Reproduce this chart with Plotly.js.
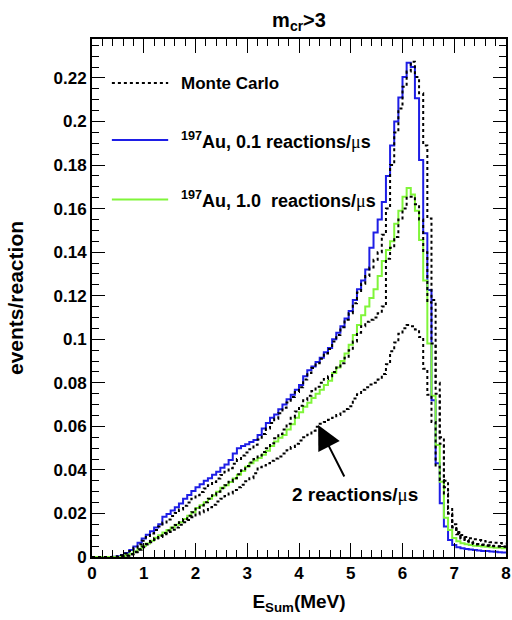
<!DOCTYPE html>
<html>
<head>
<meta charset="utf-8">
<script src="https://cdn.plot.ly/plotly-3.0.1.min.js"></script>
<style>html,body{margin:0;padding:0;background:#fff;}#chart{width:512px;height:620px;}</style>
</head>
<body>
<div id="chart"></div>
<script>
// Histogram binning (MeV)
const binLow = 0.0;
const binWidth = 0.08;

// 197Au, 0.1 reactions/us (blue)
const au01 = [0,0,0,0,0,0.0001,0.0004,0.0009,0.0018,0.0032,
0.0048,0.0065,0.0085,0.0102,0.0118,0.0136,0.0150,0.0185,0.0197,0.0214,
0.0228,0.0246,0.0268,0.0285,0.0303,0.0320,0.0334,0.0350,0.0362,0.0378,
0.0392,0.0410,0.0425,0.0445,0.0475,0.0500,0.0510,0.0518,0.0528,0.0537,
0.0560,0.0590,0.0615,0.0640,0.0655,0.0678,0.0700,0.0725,0.0745,0.0768,
0.0790,0.0830,0.0858,0.0875,0.0895,0.0915,0.0940,0.0960,0.1000,0.1030,
0.1060,0.1095,0.1130,0.1180,0.1230,0.1270,0.1320,0.1420,0.1490,0.1550,
0.1630,0.1750,0.1890,0.2000,0.2110,0.2205,0.2270,0.2250,0.2107,0.1823,
0.1487,0.1226,0.0720,0.0430,0.0247,0.0140,0.0078,0.0055,0.0045,0.0040,
0.0037,0.0034,0.0032,0.0030,0.0028,0.0027,0.0025,0.0024,0.0022,0.0021];

// 197Au, 1.0 reactions/us (green)
const au10 = [0,0,0,0,0,0,0,0.0003,0.0008,0.0015,
0.0025,0.0038,0.0050,0.0062,0.0075,0.0088,0.0100,0.0112,0.0124,0.0135,
0.0148,0.0160,0.0175,0.0190,0.0205,0.0225,0.0238,0.0252,0.0268,0.0283,
0.0300,0.0318,0.0330,0.0345,0.0360,0.0378,0.0395,0.0415,0.0430,0.0443,
0.0455,0.0470,0.0488,0.0510,0.0530,0.0548,0.0560,0.0585,0.0610,0.0640,
0.0665,0.0690,0.0708,0.0730,0.0750,0.0768,0.0790,0.0810,0.0845,0.0870,
0.0900,0.0935,0.0975,0.1020,0.1065,0.1110,0.1150,0.1190,0.1230,0.1290,
0.1360,0.1410,0.1450,0.1530,0.1590,0.1655,0.1695,0.1665,0.1590,0.1456,
0.1270,0.0980,0.0740,0.0514,0.0346,0.0180,0.0124,0.0087,0.0072,0.0063,
0.0058,0.0055,0.0052,0.0050,0.0048,0.0047,0.0045,0.0043,0.0042,0.0040];

// Monte Carlo, 0.1 reactions/us
const mc01 = [0,0,0,0,0,0.0001,0.0003,0.0008,0.0016,0.0028,
0.0042,0.0058,0.0075,0.0092,0.0108,0.0124,0.0140,0.0158,0.0172,0.0188,
0.0202,0.0218,0.0235,0.0250,0.0268,0.0284,0.0298,0.0315,0.0330,0.0345,
0.0360,0.0377,0.0392,0.0408,0.0428,0.0450,0.0466,0.0480,0.0495,0.0515,
0.0540,0.0565,0.0590,0.0615,0.0635,0.0660,0.0685,0.0710,0.0735,0.0758,
0.0780,0.0815,0.0845,0.0868,0.0890,0.0910,0.0935,0.0955,0.0990,0.1020,
0.1055,0.1090,0.1120,0.1165,0.1215,0.1255,0.1290,0.1330,0.1365,0.1400,
0.1480,0.1600,0.1800,0.1950,0.2060,0.2160,0.2230,0.2275,0.2205,0.2130,
0.1890,0.1555,0.1180,0.0800,0.0520,0.0320,0.0200,0.0135,0.0105,0.0088,
0.0078,0.0070,0.0064,0.0060,0.0057,0.0054,0.0052,0.0050,0.0049,0.0048];

// Monte Carlo, 1.0 reactions/us
const mc10 = [0,0,0,0,0,0,0,0.0003,0.0007,0.0014,
0.0024,0.0036,0.0048,0.0060,0.0073,0.0086,0.0098,0.0110,0.0122,0.0134,
0.0147,0.0160,0.0174,0.0190,0.0206,0.0222,0.0237,0.0252,0.0268,0.0284,
0.0300,0.0316,0.0330,0.0346,0.0362,0.0380,0.0398,0.0418,0.0434,0.0450,
0.0466,0.0482,0.0500,0.0522,0.0545,0.0565,0.0585,0.0612,0.0640,0.0668,
0.0695,0.0720,0.0740,0.0762,0.0782,0.0800,0.0818,0.0830,0.0850,0.0870,
0.0890,0.0915,0.0950,0.0990,0.1030,0.1060,0.1080,0.1090,0.1100,0.1120,
0.1150,0.1370,0.1420,0.1470,0.1550,0.1600,0.1655,0.1655,0.1620,0.1550,
0.1400,0.1170,0.0980,0.0750,0.0550,0.0350,0.0220,0.0150,0.0110,0.0085,
0.0072,0.0065,0.0060,0.0057,0.0055,0.0052,0.0050,0.0049,0.0048,0.0047];

// Monte Carlo, 2 reactions/us
const mc20 = [0,0,0,0,0,0,0,0.0002,0.0006,0.0012,
0.0022,0.0033,0.0045,0.0057,0.0068,0.0080,0.0092,0.0105,0.0115,0.0125,
0.0135,0.0148,0.0160,0.0170,0.0182,0.0195,0.0205,0.0215,0.0228,0.0240,
0.0255,0.0268,0.0280,0.0292,0.0308,0.0320,0.0332,0.0348,0.0362,0.0385,
0.0412,0.0420,0.0430,0.0442,0.0452,0.0462,0.0475,0.0490,0.0505,0.0520,
0.0535,0.0550,0.0562,0.0580,0.0598,0.0612,0.0620,0.0630,0.0640,0.0652,
0.0668,0.0680,0.0692,0.0728,0.0748,0.0768,0.0780,0.0792,0.0800,0.0815,
0.0840,0.0885,0.0945,0.0985,0.1025,0.1050,0.1065,0.1060,0.1045,0.1010,
0.0865,0.0745,0.0620,0.0415,0.0354,0.0292,0.0200,0.0139,0.0115,0.0101,
0.0092,0.0086,0.0081,0.0078,0.0074,0.0071,0.0068,0.0066,0.0064,0.0062];

// Axis ticks
const xTicks = [0,1,2,3,4,5,6,7,8];
const yTicks = [0,0.02,0.04,0.06,0.08,0.1,0.12,0.14,0.16,0.18,0.2,0.22];

// Labels
const titleText = 'm<sub>cr</sub>>3';
const xTitle = 'E<sub>Sum</sub>(MeV)';
const yTitle = 'events/reaction';
const mu = '<span style="font-family:Liberation Serif;font-weight:normal">μ</span>';
const legendLabels = ['Monte Carlo',
  '<sup>197</sup>Au, 0.1 reactions/' + mu + 's',
  '<sup>197</sup>Au, 1.0  reactions/' + mu + 's'];
const arrowLabel = '2 reactions/' + mu + 's';

function stepTrace(vals, color, dash, width) {
  const xs = [], ys = [];
  for (let k = 0; k < vals.length; k++) { xs.push(binLow + k * binWidth); ys.push(vals[k]); }
  xs.push(binLow + vals.length * binWidth); ys.push(vals[vals.length - 1]);
  return {x: xs, y: ys, type: 'scatter', mode: 'lines',
    line: {shape: 'hv', color: color, width: width, dash: dash},
    showlegend: false, hoverinfo: 'skip'};
}

const BLUE = '#1e1ee6', GREEN = '#80f53a';
const data = [
  stepTrace(au01, BLUE, 'solid', 2),
  stepTrace(au10, GREEN, 'solid', 2),
  stepTrace(mc01, '#000', 'dot', 2),
  stepTrace(mc10, '#000', 'dot', 2),
  stepTrace(mc20, '#000', 'dot', 2)
];

const FONT = 'Liberation Sans, Arial, Helvetica, sans-serif';
const axisCommon = {
  showline: true, linewidth: 2, linecolor: '#000', mirror: 'allticks',
  ticks: 'inside', tickwidth: 1, tickcolor: '#000',
  showgrid: false, zeroline: false,
  tickfont: {family: FONT, size: 17, weight: 700, color: '#000'}
};

const legendY = [0.915, 0.805, 0.690];
const legendStyle = [
  {color: '#000', dash: 'dot'}, {color: BLUE, dash: 'solid'}, {color: GREEN, dash: 'solid'}
];
const shapes = legendY.map((y, i) => ({type: 'line', xref: 'paper', yref: 'paper',
  x0: 0.048, x1: 0.184, y0: y, y1: y, line: {color: legendStyle[i].color, width: 2, dash: legendStyle[i].dash}}));
const annotations = legendY.map((y, i) => ({xref: 'paper', yref: 'paper', x: 0.211, y: y,
  xanchor: 'left', yanchor: 'middle', showarrow: false, text: legendLabels[i],
  font: {family: FONT, size: i === 0 ? 17 : 18, weight: 700, color: '#000'}}));
annotations.push({xref: 'x', yref: 'y', axref: 'x', ayref: 'y',
  x: 4.37, y: 0.0606, ax: 4.89, ay: 0.0363, text: '', showarrow: true,
  arrowhead: 2, arrowsize: 2.4, arrowwidth: 2, arrowcolor: '#000'});
annotations.push({xref: 'x', yref: 'y', x: 5.08, y: 0.0285, text: arrowLabel,
  showarrow: false, xanchor: 'center', yanchor: 'middle',
  font: {family: FONT, size: 19, weight: 700, color: '#000'}});

const layout = {
  width: 512, height: 620,
  margin: {l: 92, r: 6, t: 39, b: 63},
  paper_bgcolor: '#fff', plot_bgcolor: '#fff',
  title: {text: titleText, x: 0.5, xref: 'paper', xanchor: 'center',
    y: 0.968, yref: 'container', yanchor: 'middle',
    font: {family: FONT, size: 20, weight: 700, color: '#000'}},
  xaxis: Object.assign({}, axisCommon, {range: [0, 8], tickvals: xTicks, ticktext: xTicks.map(String),
    ticklen: 14, minor: {dtick: 0.2, ticks: 'inside', ticklen: 7, tickcolor: '#000', tickwidth: 1, showgrid: false},
    title: {text: xTitle, standoff: 12, font: {family: FONT, size: 19, weight: 700, color: '#000'}}}),
  yaxis: Object.assign({}, axisCommon, {range: [0, 0.2379], tickvals: yTicks, ticktext: yTicks.map(String),
    ticklen: 13, minor: {dtick: 0.005, ticks: 'inside', ticklen: 7, tickcolor: '#000', tickwidth: 1, showgrid: false},
    title: {text: yTitle, standoff: 24, font: {family: FONT, size: 21, weight: 700, color: '#000'}}}),
  shapes: shapes,
  annotations: annotations,
  showlegend: false
};

Plotly.newPlot('chart', data, layout, {displayModeBar: false, staticPlot: true});
</script>
</body>
</html>
